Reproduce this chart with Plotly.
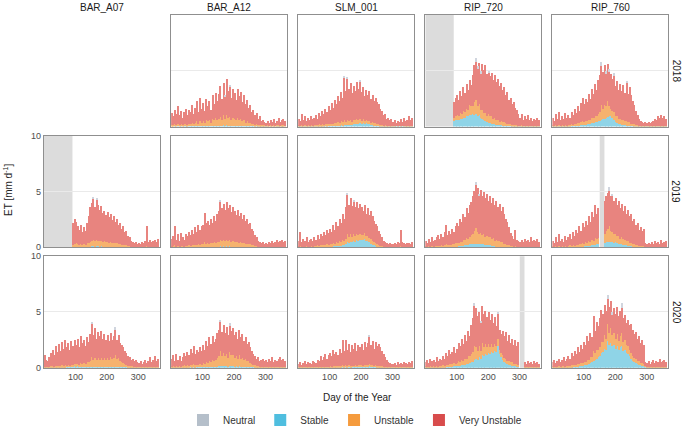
import plotly.graph_objects as go

# ---------------- data (5-day bins, ET in mm/day) ----------------
sites = ["BAR_A07", "BAR_A12", "SLM_001", "RIP_720", "RIP_760"]
years = [2018, 2019, 2020]
day_bins = list(range(3, 366, 5))  # centre day of each 5-day bin
x_ticks = [100, 200, 300]
y_ticks = [0, 5, 10]

# ---- 2018 ----
et_bar_a12_2018 = [
    1.2, 0.9, 1.5, 1.1, 1.8, 1.0, 1.4, 0.8, 1.3, 1.6,
    1.0, 1.5, 1.3, 1.9, 1.1, 1.7, 2.3, 1.3, 2.6, 1.6,
    2.1, 1.4, 2.5, 1.8, 2.3, 1.5, 2.8, 2.0, 3.0, 2.3,
    2.9, 3.6, 2.5, 3.9, 2.8, 4.3, 3.2, 3.7, 2.6, 3.4,
    3.0, 2.4, 3.4, 2.7, 3.1, 2.2, 2.8, 2.0, 2.4, 1.7,
    1.9, 1.3, 1.5, 1.0, 1.2, 0.7, 0.9, 0.5, 0.6, 0.4,
    0.3, 0.5, 0.3, 0.6, 0.4, 0.7, 0.3, 0.5, 0.8, 0.4,
    0.6, 0.7, 0.5]
unstable_bar_a12_2018 = [
    0.1, 0.1, 0.2, 0.1, 0.2, 0.1, 0.2, 0.1, 0.2, 0.2,
    0.1, 0.2, 0.2, 0.3, 0.2, 0.3, 0.4, 0.2, 0.4, 0.3,
    0.4, 0.3, 0.5, 0.4, 0.5, 0.3, 0.6, 0.5, 0.7, 0.5,
    0.6, 0.8, 0.5, 0.9, 0.6, 0.9, 0.7, 0.8, 0.5, 0.7,
    0.6, 0.5, 0.7, 0.5, 0.6, 0.4, 0.5, 0.3, 0.4, 0.3,
    0.3, 0.2, 0.2, 0.1, 0.2, 0.1, 0.1, 0.1, 0.1, 0.1,
    0.05, 0.1, 0.05, 0.1, 0.05, 0.1, 0.05, 0.1, 0.1, 0.05,
    0.1, 0.1, 0.05]
stable_bar_a12_2018 = [
    0, 0, 0.02, 0, 0.03, 0, 0.02, 0, 0.02, 0.03,
    0.02, 0.03, 0.02, 0.04, 0.03, 0.04, 0.05, 0.03, 0.05, 0.04,
    0.05, 0.04, 0.06, 0.05, 0.06, 0.04, 0.07, 0.06, 0.08, 0.06,
    0.07, 0.09, 0.06, 0.1, 0.07, 0.1, 0.08, 0.09, 0.06, 0.08,
    0.07, 0.06, 0.08, 0.06, 0.07, 0.05, 0.06, 0.04, 0.05, 0.04,
    0.04, 0.03, 0.03, 0.02, 0.03, 0.02, 0.02, 0.01, 0.02, 0.01,
    0.01, 0.01, 0, 0.01, 0, 0.01, 0, 0.01, 0.01, 0,
    0.01, 0.01, 0]
neutral_bar_a12_2018 = [(173, 0.15), (188, 0.1)]

et_slm_001_2018 = [
    0.7, 0.5, 1.1, 0.6, 0.9, 0.5, 0.8, 0.6, 0.9, 0.7,
    0.8, 1.0, 0.7, 1.2, 0.9, 1.4, 1.1, 1.6, 1.3, 1.8,
    1.5, 2.1, 1.7, 2.4, 2.0, 2.7, 2.3, 3.1, 2.6, 4.5,
    3.2, 4.4, 3.4, 3.9, 3.0, 3.6, 3.2, 4.0, 3.4, 4.1,
    3.1, 3.5, 2.7, 3.3, 2.8, 3.2, 2.5, 2.8, 2.3, 2.6,
    2.2, 2.0, 1.6, 1.4, 1.0, 1.1, 0.7, 0.8, 0.6, 0.7,
    0.4, 0.6, 0.3, 0.5, 0.4, 0.7, 0.4, 0.8, 0.5, 0.6,
    0.9, 0.6, 0.8]
unstable_slm_001_2018 = [
    0.05, 0.05, 0.1, 0.05, 0.1, 0.05, 0.1, 0.05, 0.1, 0.05,
    0.1, 0.1, 0.1, 0.15, 0.1, 0.15, 0.1, 0.2, 0.15, 0.2,
    0.15, 0.2, 0.2, 0.25, 0.2, 0.3, 0.25, 0.35, 0.3, 0.5,
    0.3, 0.45, 0.35, 0.4, 0.3, 0.4, 0.35, 0.45, 0.35, 0.4,
    0.3, 0.35, 0.25, 0.3, 0.25, 0.3, 0.2, 0.25, 0.2, 0.2,
    0.15, 0.15, 0.1, 0.1, 0.05, 0.1, 0.05, 0.05, 0.05, 0.05,
    0.05, 0.05, 0, 0.05, 0, 0.05, 0, 0.05, 0.05, 0.05,
    0.05, 0.05, 0.05]
stable_slm_001_2018 = [
    0.02, 0.01, 0.02, 0.01, 0.02, 0.01, 0.02, 0.01, 0.02, 0.02,
    0.02, 0.03, 0.02, 0.03, 0.03, 0.04, 0.03, 0.05, 0.04, 0.05,
    0.05, 0.06, 0.06, 0.08, 0.07, 0.09, 0.08, 0.1, 0.09, 0.12,
    0.1, 0.14, 0.12, 0.16, 0.14, 0.18, 0.2, 0.26, 0.24, 0.28,
    0.22, 0.3, 0.24, 0.28, 0.25, 0.2, 0.14, 0.12, 0.08, 0.07,
    0.05, 0.05, 0.04, 0.03, 0.03, 0.02, 0.02, 0.02, 0.01, 0.02,
    0.01, 0.01, 0.01, 0.01, 0.01, 0.01, 0.01, 0.01, 0.01, 0.01,
    0.01, 0.01, 0.01]
neutral_slm_001_2018 = [(148, 0.15), (158, 0.1), (198, 0.1)]

et_rip_720_2018 = [
    0, 0, 0, 0, 0, 0, 0, 0, 0, 0,
    0, 0, 0, 0, 0, 0, 0, 0, 2.2, 2.6,
    2.8, 2.4, 3.2, 2.7, 3.5, 3.0, 3.8, 3.3, 4.2, 3.7,
    4.6, 5.5, 6.1, 5.4, 5.7, 5.0, 5.6, 5.1, 5.5, 4.7,
    5.0, 4.5, 4.8, 4.2, 4.6, 4.0, 4.3, 3.6, 3.9, 3.3,
    3.5, 2.8, 3.1, 2.4, 2.6, 2.0, 2.2, 1.7, 1.5, 1.1,
    0.8, 1.1, 0.6, 0.9, 0.7, 1.0, 0.6, 0.8, 0.5, 0.7,
    0.6, 0.8, 0.6]
unstable_rip_720_2018 = [
    0, 0, 0, 0, 0, 0, 0, 0, 0, 0,
    0, 0, 0, 0, 0, 0, 0, 0, 0.3, 0.3,
    0.4, 0.3, 0.5, 0.4, 0.6, 0.5, 0.7, 0.6, 0.9, 0.8,
    0.7, 1.2, 1.3, 0.9, 1.0, 0.7, 0.8, 0.6, 0.7, 0.5,
    0.8, 0.6, 0.7, 0.5, 0.6, 0.4, 0.5, 0.3, 0.4, 0.3,
    0.3, 0.2, 0.2, 0.15, 0.15, 0.1, 0.1, 0.1, 0.1, 0.05,
    0.05, 0.1, 0.05, 0.05, 0.05, 0.05, 0.05, 0.05, 0.05, 0.05,
    0.05, 0.05, 0.05]
stable_rip_720_2018 = [
    0, 0, 0, 0, 0, 0, 0, 0, 0, 0,
    0, 0, 0, 0, 0, 0, 0, 0, 0.5, 0.6,
    0.6, 0.6, 0.7, 0.7, 0.8, 0.8, 0.9, 0.9, 1.0, 1.0,
    1.1, 1.0, 1.1, 0.9, 1.0, 0.8, 0.7, 0.6, 0.5, 0.4,
    0.35, 0.3, 0.25, 0.2, 0.18, 0.15, 0.12, 0.1, 0.1, 0.08,
    0.08, 0.07, 0.06, 0.05, 0.05, 0.04, 0.04, 0.03, 0.03, 0.03,
    0.02, 0.02, 0.02, 0.02, 0.02, 0.02, 0.02, 0.02, 0.02, 0.02,
    0.02, 0.02, 0.02]
neutral_rip_720_2018 = [(163, 0.35), (168, 0.2), (178, 0.25), (203, 0.2)]

et_rip_760_2018 = [
    0.8, 0.5, 1.1, 0.7, 1.3, 0.6, 0.9, 0.7, 1.2, 0.8,
    1.0, 0.8, 1.3, 1.0, 1.6, 1.2, 1.8, 1.4, 2.1, 2.6,
    2.0, 2.5, 2.2, 2.9, 2.5, 3.4, 2.9, 3.8, 3.3, 4.2,
    4.6, 5.8, 4.9, 5.5, 5.0, 5.6, 5.2, 4.7, 4.3, 4.8,
    3.6, 4.1, 3.3, 3.8, 3.2, 3.7, 3.0, 4.1, 2.9, 3.5,
    2.8, 2.3, 1.9, 1.4, 1.0, 0.7, 0.5, 0.4, 0.3, 0.4,
    0.3, 0.4, 0.3, 0.4, 0.5, 0.7, 0.6, 0.9, 0.8, 1.0,
    0.8, 0.9, 0.7]
unstable_rip_760_2018 = [
    0.05, 0.05, 0.1, 0.05, 0.1, 0.05, 0.1, 0.05, 0.1, 0.05,
    0.1, 0.1, 0.15, 0.1, 0.2, 0.15, 0.2, 0.2, 0.3, 0.35,
    0.3, 0.35, 0.3, 0.4, 0.35, 0.5, 0.4, 0.6, 0.5, 0.7,
    0.8, 1.3, 0.9, 1.2, 1.0, 1.4, 0.9, 0.7, 0.6, 0.7,
    0.5, 0.6, 0.4, 0.5, 0.4, 0.5, 0.4, 0.4, 0.3, 0.3,
    0.2, 0.2, 0.15, 0.1, 0.1, 0.05, 0.05, 0.05, 0.05, 0.05,
    0.05, 0.05, 0.05, 0.05, 0.05, 0.05, 0.05, 0.05, 0.05, 0.05,
    0.05, 0.05, 0.05]
stable_rip_760_2018 = [
    0.03, 0.02, 0.04, 0.03, 0.04, 0.02, 0.03, 0.03, 0.04, 0.03,
    0.04, 0.04, 0.05, 0.05, 0.06, 0.06, 0.08, 0.08, 0.1, 0.12,
    0.14, 0.16, 0.18, 0.22, 0.25, 0.3, 0.32, 0.38, 0.4, 0.45,
    0.5, 0.6, 0.65, 0.7, 0.8, 0.85, 0.95, 0.9, 0.8, 0.6,
    0.4, 0.3, 0.25, 0.2, 0.15, 0.12, 0.1, 0.08, 0.07, 0.06,
    0.05, 0.05, 0.04, 0.03, 0.03, 0.02, 0.02, 0.02, 0.02, 0.02,
    0.02, 0.02, 0.02, 0.02, 0.02, 0.02, 0.02, 0.02, 0.02, 0.02,
    0.02, 0.02, 0.02]
neutral_rip_760_2018 = [(158, 0.4), (173, 0.3), (183, 0.35), (198, 0.3), (238, 0.2)]

# ---- 2019 ----
et_bar_a07_2019 = [
    0, 0, 0, 0, 0, 0, 0, 0, 0, 0,
    0, 0, 0, 0, 0, 0, 0, 0, 2.2, 2.6,
    2.3, 1.9, 1.6, 2.0, 1.4, 1.8, 1.5, 2.2, 2.8, 3.6,
    4.0, 4.5, 3.6, 4.4, 3.8, 3.4, 3.7, 3.1, 3.3, 2.9,
    3.2, 2.7, 3.0, 2.5, 2.8, 2.3, 2.6, 2.0, 2.2, 1.7,
    1.9, 1.4, 1.5, 1.0, 0.9, 0.6, 0.5, 0.4, 0.5, 0.3,
    0.4, 0.3, 0.5, 0.4, 0.6, 1.9, 0.5, 0.7, 0.5, 0.6,
    0.7, 0.5, 0.8]
unstable_bar_a07_2019 = [
    0, 0, 0, 0, 0, 0, 0, 0, 0, 0,
    0, 0, 0, 0, 0, 0, 0, 0, 0.2, 0.3,
    0.3, 0.25, 0.2, 0.25, 0.2, 0.25, 0.2, 0.3, 0.35, 0.45,
    0.5, 0.55, 0.45, 0.55, 0.5, 0.45, 0.5, 0.4, 0.45, 0.4,
    0.4, 0.35, 0.4, 0.3, 0.35, 0.3, 0.3, 0.25, 0.25, 0.2,
    0.2, 0.15, 0.15, 0.1, 0.1, 0.05, 0.05, 0.05, 0.05, 0.05,
    0.05, 0.05, 0.05, 0.05, 0.05, 0.1, 0.05, 0.05, 0.05, 0.05,
    0.05, 0.05, 0.05]
stable_bar_a07_2019 = [
    0, 0, 0, 0, 0, 0, 0, 0, 0, 0,
    0, 0, 0, 0, 0, 0, 0, 0, 0.05, 0.05,
    0.06, 0.05, 0.05, 0.06, 0.05, 0.06, 0.05, 0.06, 0.07, 0.08,
    0.1, 0.1, 0.09, 0.1, 0.1, 0.09, 0.1, 0.08, 0.09, 0.08,
    0.08, 0.07, 0.08, 0.06, 0.07, 0.06, 0.06, 0.05, 0.05, 0.04,
    0.04, 0.03, 0.03, 0.02, 0.02, 0.02, 0.01, 0.01, 0.01, 0.01,
    0.01, 0.01, 0.01, 0.01, 0.01, 0.01, 0.01, 0.01, 0.01, 0.01,
    0.01, 0.01, 0.01]
neutral_bar_a07_2019 = [(158, 0.15), (168, 0.1)]

et_bar_a12_2019 = [
    0.8, 1.0, 1.9, 0.7, 1.2, 0.6, 1.3, 0.9, 0.7, 1.2,
    1.0, 1.4, 1.1, 1.6, 1.2, 1.8, 1.4, 2.0, 1.6, 1.9,
    2.0, 3.1, 2.2, 2.4, 2.0, 2.6, 2.2, 2.8, 2.4, 3.0,
    3.3, 4.3, 3.5, 3.9, 3.4, 4.1, 3.5, 3.8, 3.2, 3.6,
    3.3, 2.9, 3.4, 2.8, 3.1, 2.6, 2.9, 2.4, 2.6, 2.1,
    2.2, 1.7, 1.5, 1.1, 0.9, 0.6, 0.5, 0.4, 0.5, 0.3,
    0.4, 0.3, 0.5, 0.4, 0.6, 0.4, 0.5, 0.7, 0.5, 0.6,
    0.7, 0.5, 0.6]
unstable_bar_a12_2019 = [
    0.05, 0.1, 0.15, 0.05, 0.1, 0.05, 0.1, 0.1, 0.05, 0.1,
    0.1, 0.15, 0.1, 0.2, 0.15, 0.2, 0.2, 0.25, 0.2, 0.25,
    0.25, 0.4, 0.3, 0.3, 0.3, 0.35, 0.3, 0.4, 0.35, 0.45,
    0.45, 0.6, 0.5, 0.55, 0.5, 0.6, 0.5, 0.55, 0.45, 0.5,
    0.45, 0.4, 0.45, 0.35, 0.4, 0.35, 0.35, 0.3, 0.3, 0.25,
    0.25, 0.2, 0.15, 0.1, 0.1, 0.05, 0.05, 0.05, 0.05, 0.05,
    0.05, 0.05, 0.05, 0.05, 0.05, 0.05, 0.05, 0.05, 0.05, 0.05,
    0.05, 0.05, 0.05]
stable_bar_a12_2019 = [
    0.01, 0.02, 0.03, 0.01, 0.02, 0.01, 0.02, 0.02, 0.01, 0.02,
    0.02, 0.03, 0.02, 0.03, 0.03, 0.04, 0.03, 0.04, 0.04, 0.05,
    0.05, 0.07, 0.05, 0.06, 0.05, 0.06, 0.06, 0.07, 0.06, 0.08,
    0.08, 0.1, 0.09, 0.1, 0.09, 0.1, 0.09, 0.1, 0.08, 0.09,
    0.08, 0.07, 0.08, 0.06, 0.07, 0.06, 0.06, 0.05, 0.05, 0.04,
    0.04, 0.03, 0.03, 0.02, 0.02, 0.02, 0.01, 0.01, 0.01, 0.01,
    0.01, 0.01, 0.01, 0.01, 0.01, 0.01, 0.01, 0.01, 0.01, 0.01,
    0.01, 0.01, 0.01]
neutral_bar_a12_2019 = [(158, 0.15)]

et_slm_001_2019 = [
    0.6, 1.4, 0.5, 0.8, 0.6, 0.9, 0.5, 0.7, 0.8, 0.6,
    0.9, 0.7, 1.1, 0.8, 1.2, 1.0, 1.4, 1.1, 1.6, 1.3,
    1.7, 1.4, 2.0, 1.6, 2.3, 1.9, 2.6, 2.2, 3.0, 2.6,
    3.6, 4.9, 3.8, 4.4, 3.7, 4.3, 3.6, 4.1, 3.5, 3.9,
    3.6, 3.3, 3.8, 3.0, 3.5, 2.9, 3.3, 2.8, 2.4, 2.1,
    1.9, 1.5, 1.2, 0.9, 0.6, 0.5, 0.4, 0.3, 0.4, 0.3,
    0.3, 0.4, 0.3, 0.5, 0.4, 1.6, 0.5, 0.4, 0.3, 0.4,
    0.4, 0.3, 0.5]
unstable_slm_001_2019 = [
    0.05, 0.1, 0.05, 0.05, 0.05, 0.1, 0.05, 0.05, 0.1, 0.05,
    0.1, 0.1, 0.15, 0.1, 0.15, 0.15, 0.2, 0.15, 0.25, 0.2,
    0.25, 0.2, 0.3, 0.25, 0.35, 0.3, 0.4, 0.35, 0.5, 0.4,
    0.5, 0.8, 0.55, 0.7, 0.5, 0.65, 0.5, 0.6, 0.5, 0.55,
    0.5, 0.45, 0.55, 0.4, 0.5, 0.4, 0.45, 0.35, 0.3, 0.25,
    0.2, 0.15, 0.1, 0.1, 0.05, 0.05, 0.05, 0.05, 0.05, 0.05,
    0.05, 0.05, 0.05, 0.05, 0.05, 0.1, 0.05, 0.05, 0.05, 0.05,
    0.05, 0.05, 0.05]
stable_slm_001_2019 = [
    0.02, 0.02, 0.02, 0.02, 0.02, 0.02, 0.02, 0.02, 0.02, 0.02,
    0.03, 0.03, 0.04, 0.03, 0.04, 0.04, 0.05, 0.05, 0.06, 0.06,
    0.08, 0.08, 0.1, 0.1, 0.12, 0.12, 0.15, 0.15, 0.2, 0.22,
    0.3, 0.45, 0.4, 0.5, 0.45, 0.55, 0.5, 0.65, 0.6, 0.7,
    0.65, 0.7, 0.75, 0.6, 0.55, 0.45, 0.35, 0.25, 0.18, 0.12,
    0.08, 0.06, 0.05, 0.04, 0.03, 0.03, 0.02, 0.02, 0.02, 0.02,
    0.02, 0.02, 0.02, 0.02, 0.02, 0.02, 0.02, 0.02, 0.02, 0.02,
    0.02, 0.02, 0.02]
neutral_slm_001_2019 = [(158, 0.2), (178, 0.15)]

et_rip_720_2019 = [
    0.6, 0.4, 0.8, 0.5, 0.9, 0.6, 0.7, 0.9, 1.1, 0.8,
    1.2, 0.9, 1.4, 2.0, 1.1, 1.5, 1.2, 1.7, 1.4, 1.9,
    2.2, 1.9, 2.6, 2.3, 3.0, 2.7, 3.5, 3.1, 3.8, 4.1,
    4.6, 5.1, 5.9, 5.3, 4.8, 5.2, 4.6, 5.0, 4.4, 4.8,
    4.2, 4.6, 4.0, 4.4, 3.8, 4.2, 3.6, 3.9, 3.3, 3.6,
    3.0, 2.6, 2.3, 1.8, 1.3, 1.0, 0.8, 1.6, 0.7, 0.6,
    0.5, 0.7, 0.5, 0.8, 0.6, 0.7, 0.5, 0.9, 0.6, 0.7,
    0.6, 0.8, 0.5]
unstable_rip_720_2019 = [
    0.05, 0.05, 0.1, 0.05, 0.1, 0.05, 0.1, 0.1, 0.15, 0.1,
    0.15, 0.1, 0.2, 0.3, 0.15, 0.2, 0.2, 0.25, 0.2, 0.3,
    0.3, 0.3, 0.4, 0.35, 0.5, 0.45, 0.6, 0.55, 0.7, 0.8,
    0.9, 1.1, 1.4, 1.0, 0.9, 1.0, 0.8, 0.9, 0.7, 0.8,
    0.7, 0.8, 0.6, 0.7, 0.5, 0.6, 0.5, 0.5, 0.4, 0.4,
    0.3, 0.3, 0.2, 0.15, 0.1, 0.1, 0.05, 0.1, 0.05, 0.05,
    0.05, 0.05, 0.05, 0.05, 0.05, 0.05, 0.05, 0.05, 0.05, 0.05,
    0.05, 0.05, 0.05]
stable_rip_720_2019 = [
    0.02, 0.02, 0.02, 0.02, 0.02, 0.02, 0.02, 0.02, 0.02, 0.02,
    0.03, 0.03, 0.04, 0.04, 0.05, 0.05, 0.06, 0.06, 0.07, 0.08,
    0.09, 0.1, 0.12, 0.14, 0.16, 0.2, 0.22, 0.25, 0.28, 0.3,
    0.32, 0.35, 0.33, 0.35, 0.3, 0.32, 0.28, 0.3, 0.25, 0.22,
    0.2, 0.18, 0.15, 0.12, 0.1, 0.09, 0.08, 0.07, 0.06, 0.05,
    0.04, 0.04, 0.03, 0.03, 0.03, 0.02, 0.02, 0.02, 0.02, 0.02,
    0.02, 0.02, 0.02, 0.02, 0.02, 0.02, 0.02, 0.02, 0.02, 0.02,
    0.02, 0.02, 0.02]
neutral_rip_720_2019 = [(163, 0.3), (173, 0.2)]

et_rip_760_2019 = [
    0.6, 0.4, 0.9, 0.5, 1.2, 0.6, 0.8, 0.5, 1.0, 0.7,
    0.9, 1.2, 0.8, 1.4, 1.0, 1.6, 1.3, 1.9, 1.5, 2.2,
    1.8, 2.4, 2.0, 2.8, 2.3, 3.2, 2.7, 3.8, 3.0, 3.5,
    0, 0, 0, 4.2, 4.6, 4.9, 5.4, 4.6, 4.8, 4.2,
    4.4, 3.8, 4.2, 3.5, 3.9, 3.3, 3.7, 3.0, 3.4, 2.8,
    3.0, 2.4, 2.6, 2.0, 2.2, 1.6, 1.8, 1.5, 1.7, 0.4,
    0.3, 0.4, 0.3, 0.5, 0.3, 0.6, 0.4, 0.5, 0.3, 0.7,
    0.4, 0.5, 0.6]
unstable_rip_760_2019 = [
    0.05, 0.05, 0.1, 0.05, 0.1, 0.05, 0.1, 0.05, 0.1, 0.05,
    0.1, 0.15, 0.1, 0.15, 0.1, 0.2, 0.15, 0.25, 0.2, 0.3,
    0.25, 0.35, 0.3, 0.4, 0.35, 0.5, 0.4, 0.6, 0.45, 0.55,
    0, 0, 0, 0.8, 1.0, 1.2, 1.4, 1.0, 0.9, 0.8,
    0.8, 0.6, 0.7, 0.5, 0.6, 0.5, 0.5, 0.4, 0.4, 0.3,
    0.3, 0.2, 0.2, 0.15, 0.15, 0.1, 0.1, 0.1, 0.1, 0.05,
    0.05, 0.05, 0.05, 0.05, 0.05, 0.05, 0.05, 0.05, 0.05, 0.05,
    0.05, 0.05, 0.05]
stable_rip_760_2019 = [
    0.02, 0.02, 0.02, 0.02, 0.02, 0.02, 0.02, 0.02, 0.02, 0.02,
    0.03, 0.03, 0.04, 0.04, 0.05, 0.05, 0.06, 0.07, 0.08, 0.09,
    0.1, 0.12, 0.13, 0.15, 0.17, 0.2, 0.22, 0.25, 0.28, 0.3,
    0, 0, 0, 0.4, 0.45, 0.5, 0.5, 0.45, 0.5, 0.4,
    0.45, 0.4, 0.35, 0.3, 0.3, 0.25, 0.2, 0.18, 0.15, 0.12,
    0.1, 0.08, 0.07, 0.06, 0.05, 0.04, 0.04, 0.03, 0.03, 0.02,
    0.02, 0.02, 0.02, 0.02, 0.02, 0.02, 0.02, 0.02, 0.02, 0.02,
    0.02, 0.02, 0.02]
neutral_rip_760_2019 = [(183, 0.3), (193, 0.2)]

# ---- 2020 ----
et_bar_a07_2020 = [
    1.1, 0.7, 0.6, 0.9, 1.3, 1.6, 1.1, 1.9, 1.4, 2.1,
    1.5, 2.3, 1.7, 2.5, 1.8, 2.2, 1.6, 2.4, 1.9, 2.5,
    2.0, 2.6, 1.8, 2.8, 2.2, 2.5, 1.9, 2.7, 2.3, 3.0,
    4.1, 2.9, 3.5, 2.6, 3.2, 2.8, 3.3, 2.6, 3.0, 2.5,
    2.9, 2.4, 3.1, 2.5, 2.8, 3.6, 2.5, 2.9, 2.2, 2.0,
    1.8, 1.5, 1.3, 1.0, 0.9, 0.7, 0.8, 0.6, 0.7, 0.5,
    0.4, 0.6, 0.3, 0.5, 0.7, 0.4, 0.6, 0.9, 0.5, 0.7,
    1.0, 0.6, 0.8]
unstable_bar_a07_2020 = [
    0.05, 0.05, 0.05, 0.05, 0.1, 0.1, 0.05, 0.1, 0.1, 0.1,
    0.1, 0.15, 0.1, 0.15, 0.1, 0.15, 0.1, 0.15, 0.15, 0.2,
    0.15, 0.2, 0.15, 0.3, 0.25, 0.35, 0.3, 0.45, 0.4, 0.55,
    0.9, 0.6, 0.8, 0.6, 0.75, 0.65, 0.8, 0.6, 0.75, 0.6,
    0.75, 0.6, 0.9, 0.7, 0.8, 1.1, 0.7, 0.8, 0.55, 0.45,
    0.35, 0.3, 0.2, 0.15, 0.1, 0.1, 0.1, 0.05, 0.05, 0.05,
    0.05, 0.05, 0.05, 0.05, 0.05, 0.05, 0.05, 0.05, 0.05, 0.05,
    0.05, 0.05, 0.05]
stable_bar_a07_2020 = [
    0.02, 0.02, 0.02, 0.02, 0.02, 0.02, 0.02, 0.02, 0.02, 0.02,
    0.03, 0.03, 0.04, 0.04, 0.05, 0.05, 0.06, 0.07, 0.08, 0.1,
    0.12, 0.1, 0.08, 0.07, 0.06, 0.06, 0.05, 0.06, 0.06, 0.07,
    0.08, 0.07, 0.08, 0.07, 0.07, 0.06, 0.07, 0.06, 0.06, 0.05,
    0.06, 0.05, 0.06, 0.05, 0.05, 0.06, 0.05, 0.05, 0.04, 0.04,
    0.03, 0.03, 0.03, 0.02, 0.02, 0.02, 0.02, 0.02, 0.02, 0.02,
    0.02, 0.02, 0.02, 0.02, 0.02, 0.02, 0.02, 0.02, 0.02, 0.02,
    0.02, 0.02, 0.02]
neutral_bar_a07_2020 = [(153, 0.15), (228, 0.15)]

et_bar_a12_2020 = [
    0.8, 1.1, 0.6, 1.2, 0.7, 1.0, 0.6, 0.9, 1.3, 1.0,
    1.4, 1.1, 1.7, 1.3, 1.9, 1.2, 1.6, 1.4, 1.8, 1.5,
    2.0, 1.6, 2.4, 1.9, 2.7, 2.1, 2.8, 2.3, 2.6, 3.1,
    3.4, 4.3, 3.2, 3.8, 3.1, 3.6, 2.9, 4.0, 3.3, 3.5,
    2.9, 3.2, 2.6, 3.4, 2.7, 3.0, 2.4, 2.7, 2.1, 2.3,
    1.8, 1.5, 1.2, 1.0, 0.8, 0.9, 0.6, 0.7, 0.8, 0.6,
    0.7, 0.5, 0.8, 0.6, 0.9, 0.5, 0.7, 0.6, 0.8, 0.9,
    0.7, 0.8, 0.6]
unstable_bar_a12_2020 = [
    0.05, 0.1, 0.05, 0.1, 0.05, 0.1, 0.05, 0.1, 0.15, 0.1,
    0.15, 0.1, 0.2, 0.15, 0.25, 0.15, 0.2, 0.2, 0.25, 0.2,
    0.3, 0.25, 0.4, 0.35, 0.5, 0.4, 0.6, 0.5, 0.6, 0.75,
    0.9, 1.4, 0.9, 1.2, 0.9, 1.1, 0.8, 1.3, 1.0, 1.0,
    0.8, 0.9, 0.7, 1.0, 0.7, 0.8, 0.6, 0.7, 0.5, 0.5,
    0.35, 0.3, 0.2, 0.15, 0.1, 0.1, 0.05, 0.05, 0.05, 0.05,
    0.05, 0.05, 0.05, 0.05, 0.05, 0.05, 0.05, 0.05, 0.05, 0.05,
    0.05, 0.05, 0.05]
stable_bar_a12_2020 = [
    0.02, 0.03, 0.02, 0.03, 0.02, 0.03, 0.02, 0.03, 0.04, 0.03,
    0.04, 0.03, 0.05, 0.04, 0.05, 0.04, 0.05, 0.05, 0.06, 0.05,
    0.06, 0.05, 0.07, 0.06, 0.08, 0.07, 0.08, 0.07, 0.08, 0.09,
    0.1, 0.12, 0.1, 0.11, 0.1, 0.11, 0.09, 0.12, 0.1, 0.1,
    0.09, 0.1, 0.08, 0.1, 0.08, 0.09, 0.07, 0.08, 0.06, 0.06,
    0.05, 0.04, 0.04, 0.03, 0.03, 0.03, 0.02, 0.02, 0.02, 0.02,
    0.02, 0.02, 0.02, 0.02, 0.02, 0.02, 0.02, 0.02, 0.02, 0.02,
    0.02, 0.02, 0.02]
neutral_bar_a12_2020 = [(158, 0.2), (188, 0.25)]

et_slm_001_2020 = [
    0.3, 0.5, 0.2, 0.4, 0.6, 0.3, 0.5, 0.4, 0.3, 0.6,
    0.5, 0.4, 0.7, 0.6, 1.0, 0.7, 0.9, 1.2, 0.8, 1.1,
    1.3, 1.0, 1.6, 1.2, 1.4, 1.1, 1.7, 1.3, 2.5, 1.5,
    2.5, 1.6, 2.1, 1.4, 2.0, 1.7, 2.2, 1.5, 2.0, 1.8,
    2.1, 1.6, 2.3, 1.8, 2.2, 2.9, 2.0, 2.4, 1.7, 2.3,
    1.9, 2.1, 1.8, 1.5, 1.2, 0.9, 0.7, 0.5, 0.4, 0.3,
    0.3, 0.4, 0.2, 0.5, 0.3, 0.4, 0.3, 0.5, 0.4, 0.3,
    0.5, 0.4, 0.6]
unstable_slm_001_2020 = [
    0.02, 0.03, 0.01, 0.02, 0.03, 0.02, 0.03, 0.02, 0.02, 0.03,
    0.03, 0.02, 0.04, 0.03, 0.05, 0.04, 0.05, 0.06, 0.05, 0.06,
    0.07, 0.06, 0.09, 0.07, 0.08, 0.07, 0.1, 0.08, 0.15, 0.1,
    0.15, 0.1, 0.13, 0.09, 0.12, 0.1, 0.14, 0.1, 0.13, 0.12,
    0.14, 0.11, 0.16, 0.12, 0.15, 0.2, 0.14, 0.16, 0.12, 0.15,
    0.12, 0.13, 0.1, 0.08, 0.06, 0.05, 0.04, 0.03, 0.02, 0.02,
    0.02, 0.02, 0.01, 0.02, 0.02, 0.02, 0.02, 0.02, 0.02, 0.02,
    0.02, 0.02, 0.02]
stable_slm_001_2020 = [
    0.01, 0.01, 0.01, 0.01, 0.01, 0.01, 0.01, 0.01, 0.01, 0.01,
    0.01, 0.01, 0.02, 0.02, 0.02, 0.02, 0.02, 0.03, 0.02, 0.03,
    0.03, 0.03, 0.04, 0.03, 0.04, 0.03, 0.04, 0.04, 0.05, 0.04,
    0.05, 0.04, 0.05, 0.04, 0.05, 0.05, 0.06, 0.05, 0.06, 0.06,
    0.07, 0.06, 0.08, 0.07, 0.09, 0.12, 0.08, 0.07, 0.05, 0.05,
    0.04, 0.04, 0.03, 0.03, 0.02, 0.02, 0.02, 0.01, 0.01, 0.01,
    0.01, 0.01, 0.01, 0.01, 0.01, 0.01, 0.01, 0.01, 0.01, 0.01,
    0.01, 0.01, 0.01]
neutral_slm_001_2020 = [(228, 0.1)]

et_rip_720_2020 = [
    0.5, 0.7, 0.4, 0.8, 0.6, 0.7, 0.5, 0.9, 0.6, 0.8,
    0.7, 1.0, 0.8, 1.3, 1.0, 1.6, 1.2, 1.4, 1.8, 1.3,
    1.7, 2.2, 1.9, 2.6, 2.1, 2.9, 2.4, 3.3, 2.8, 3.8,
    4.4, 5.8, 5.3, 4.6, 5.0, 4.2, 5.5, 4.8, 5.1, 4.5,
    5.0, 4.3, 4.8, 4.0, 4.5, 3.7, 5.0, 3.4, 3.0, 3.3,
    2.8, 3.2, 2.4, 2.9, 2.2, 2.6, 2.0, 2.5, 1.9, 2.3,
    0, 0, 0, 0.5, 0.3, 0.6, 0.4, 0.5, 0.3, 0.6,
    0.4, 0.5, 0.3]
unstable_rip_720_2020 = [
    0.05, 0.05, 0.05, 0.1, 0.05, 0.1, 0.05, 0.1, 0.05, 0.1,
    0.1, 0.15, 0.1, 0.2, 0.15, 0.25, 0.2, 0.25, 0.3, 0.25,
    0.3, 0.4, 0.35, 0.5, 0.4, 0.55, 0.5, 0.7, 0.6, 0.8,
    0.9, 1.2, 1.0, 0.8, 1.0, 0.7, 1.1, 0.8, 0.9, 0.7,
    0.8, 0.6, 0.7, 0.5, 0.6, 0.5, 0.7, 0.4, 0.4, 0.4,
    0.35, 0.4, 0.3, 0.35, 0.25, 0.3, 0.2, 0.25, 0.2, 0.2,
    0, 0, 0, 0.05, 0.05, 0.05, 0.05, 0.05, 0.05, 0.05,
    0.05, 0.05, 0.05]
stable_rip_720_2020 = [
    0.02, 0.02, 0.02, 0.02, 0.02, 0.02, 0.02, 0.02, 0.02, 0.02,
    0.03, 0.04, 0.04, 0.05, 0.05, 0.06, 0.07, 0.08, 0.1, 0.1,
    0.12, 0.15, 0.15, 0.2, 0.2, 0.25, 0.3, 0.35, 0.4, 0.45,
    0.5, 0.7, 0.8, 0.7, 0.9, 0.8, 1.1, 1.0, 1.2, 1.1,
    1.3, 1.2, 1.4, 1.3, 1.5, 1.4, 1.9, 1.2, 0.9, 0.7,
    0.5, 0.4, 0.3, 0.25, 0.2, 0.15, 0.12, 0.1, 0.08, 0.06,
    0, 0, 0, 0.03, 0.02, 0.02, 0.02, 0.02, 0.02, 0.02,
    0.02, 0.02, 0.02]
neutral_rip_720_2020 = [(158, 0.3), (178, 0.25), (233, 0.2)]

et_rip_760_2020 = [
    0.5, 0.7, 0.4, 0.6, 0.8, 0.5, 0.7, 0.9, 0.6, 0.8,
    1.0, 0.8, 1.3, 1.0, 1.5, 1.2, 1.8, 1.4, 2.0, 1.7,
    2.3, 2.0, 2.8, 2.4, 3.1, 2.7, 4.6, 3.3, 4.1, 3.7,
    4.4, 5.2, 4.8, 5.6, 5.1, 6.5, 5.4, 6.0, 5.0, 5.3,
    4.8, 5.4, 4.6, 5.1, 5.8, 4.4, 4.7, 4.0, 4.3, 3.8,
    3.9, 3.4, 3.0, 3.2, 2.6, 2.8, 2.2, 2.5, 2.0, 0.5,
    0.4, 0.6, 0.3, 0.5, 0.7, 0.4, 0.6, 0.5, 0.8, 0.5,
    0.6, 0.7, 0.5]
unstable_rip_760_2020 = [
    0.05, 0.05, 0.05, 0.05, 0.1, 0.05, 0.1, 0.1, 0.05, 0.1,
    0.1, 0.1, 0.15, 0.15, 0.2, 0.15, 0.25, 0.2, 0.3, 0.25,
    0.35, 0.3, 0.45, 0.4, 0.5, 0.45, 0.9, 0.6, 0.8, 0.7,
    0.8, 1.0, 0.9, 1.2, 1.0, 1.5, 1.1, 1.3, 1.0, 1.1,
    0.9, 1.1, 0.8, 1.0, 1.2, 0.8, 0.9, 0.7, 0.7, 0.6,
    0.5, 0.4, 0.35, 0.35, 0.3, 0.3, 0.2, 0.25, 0.2, 0.05,
    0.05, 0.05, 0.05, 0.05, 0.05, 0.05, 0.05, 0.05, 0.05, 0.05,
    0.05, 0.05, 0.05]
stable_rip_760_2020 = [
    0.02, 0.02, 0.02, 0.02, 0.02, 0.02, 0.02, 0.02, 0.02, 0.02,
    0.03, 0.03, 0.04, 0.05, 0.06, 0.07, 0.08, 0.1, 0.12, 0.14,
    0.18, 0.2, 0.25, 0.3, 0.4, 0.45, 0.6, 0.7, 0.8, 0.9,
    1.0, 1.3, 1.4, 1.7, 1.6, 2.4, 2.0, 2.2, 1.9, 2.0,
    1.7, 1.9, 1.6, 1.8, 1.9, 1.5, 1.6, 1.3, 1.2, 1.0,
    0.8, 0.6, 0.5, 0.4, 0.3, 0.25, 0.2, 0.15, 0.12, 0.05,
    0.03, 0.03, 0.02, 0.02, 0.02, 0.02, 0.02, 0.02, 0.02, 0.02,
    0.02, 0.02, 0.02]
neutral_rip_760_2020 = [(178, 0.4), (193, 0.3), (223, 0.45)]

# missing-data periods (site, year, first day, last day)
gaps = [("RIP_720", 2018, 0, 90.5), ("BAR_A07", 2019, 0, 90.5),
        ("RIP_760", 2019, 150.5, 165.5), ("RIP_720", 2020, 300.5, 315.5)]

panels = {
    ("BAR_A12", 2018): (et_bar_a12_2018, stable_bar_a12_2018, unstable_bar_a12_2018, neutral_bar_a12_2018),
    ("SLM_001", 2018): (et_slm_001_2018, stable_slm_001_2018, unstable_slm_001_2018, neutral_slm_001_2018),
    ("RIP_720", 2018): (et_rip_720_2018, stable_rip_720_2018, unstable_rip_720_2018, neutral_rip_720_2018),
    ("RIP_760", 2018): (et_rip_760_2018, stable_rip_760_2018, unstable_rip_760_2018, neutral_rip_760_2018),
    ("BAR_A07", 2019): (et_bar_a07_2019, stable_bar_a07_2019, unstable_bar_a07_2019, neutral_bar_a07_2019),
    ("BAR_A12", 2019): (et_bar_a12_2019, stable_bar_a12_2019, unstable_bar_a12_2019, neutral_bar_a12_2019),
    ("SLM_001", 2019): (et_slm_001_2019, stable_slm_001_2019, unstable_slm_001_2019, neutral_slm_001_2019),
    ("RIP_720", 2019): (et_rip_720_2019, stable_rip_720_2019, unstable_rip_720_2019, neutral_rip_720_2019),
    ("RIP_760", 2019): (et_rip_760_2019, stable_rip_760_2019, unstable_rip_760_2019, neutral_rip_760_2019),
    ("BAR_A07", 2020): (et_bar_a07_2020, stable_bar_a07_2020, unstable_bar_a07_2020, neutral_bar_a07_2020),
    ("BAR_A12", 2020): (et_bar_a12_2020, stable_bar_a12_2020, unstable_bar_a12_2020, neutral_bar_a12_2020),
    ("SLM_001", 2020): (et_slm_001_2020, stable_slm_001_2020, unstable_slm_001_2020, neutral_slm_001_2020),
    ("RIP_720", 2020): (et_rip_720_2020, stable_rip_720_2020, unstable_rip_720_2020, neutral_rip_720_2020),
    ("RIP_760", 2020): (et_rip_760_2020, stable_rip_760_2020, unstable_rip_760_2020, neutral_rip_760_2020),
}

# ---------------- styling ----------------
W, H = 685, 430
FONT = "Liberation Sans, Arial, Helvetica, sans-serif"
class_names = ["Neutral", "Stable", "Unstable", "Very Unstable"]
legend_colors = {"Neutral": "#B5BFCA", "Stable": "#4FBEDF",
                 "Unstable": "#F59B3D", "Very Unstable": "#D84C4C"}
bar_colors = {"Neutral": "#D0D5DE", "Stable": "#8FD4E7",
              "Unstable": "#F6B26E", "Very Unstable": "#E8847F"}
BORDER = "#8F8F8F"

PANEL_L0, PANEL_STEP_X, PANEL_W = 44, 127.1, 116
PANEL_T0, PANEL_STEP_Y, PANEL_H = 15, 120.6, 111.5

fig = go.Figure()

# legend-only entries
for name in class_names:
    fig.add_trace(go.Bar(x=[None], y=[None], name=name, xaxis="x2", yaxis="y2",
                         marker=dict(color=legend_colors[name], line=dict(width=0)),
                         showlegend=True, hoverinfo="skip"))

shapes = []
annotations = []
layout_axes = {}
for r, year in enumerate(years):
    for c, site in enumerate(sites):
        idx = r * 5 + c + 1
        sfx = "" if idx == 1 else str(idx)
        left = PANEL_L0 + c * PANEL_STEP_X
        top = PANEL_T0 + r * PANEL_STEP_Y
        has = (site, year) in panels
        layout_axes["xaxis" + sfx] = dict(
            domain=[left / W, (left + PANEL_W) / W], anchor="y" + sfx,
            range=[0, 369], visible=has, showgrid=False, zeroline=False,
            showline=True, mirror=True, linecolor=BORDER, linewidth=1.2,
            tickvals=x_ticks, ticks="", showticklabels=(r == 2), automargin=False,
            tickfont=dict(size=9, color="#4D4D4D", family=FONT), fixedrange=True)
        layout_axes["yaxis" + sfx] = dict(
            domain=[1 - (top + PANEL_H) / H, 1 - top / H], anchor="x" + sfx,
            range=[0, 10], visible=has, showgrid=True, gridcolor="#EAEAEA",
            gridwidth=0.8, zeroline=False, showline=True, mirror=True,
            linecolor=BORDER, linewidth=1.2, tickvals=y_ticks, ticks="",
            showticklabels=(c == 0), automargin=False,
            tickfont=dict(size=9, color="#4D4D4D", family=FONT), fixedrange=True)
        if not has:
            continue
        et, stab, unst, neut_pairs = panels[(site, year)]
        neut = [0.0] * len(day_bins)
        for d, v in neut_pairs:
            neut[(d - 1) // 5] = v
        vu = [max(t - s - u - n, 0) for t, s, u, n in zip(et, stab, unst, neut)]
        for name, vals in [("Stable", stab), ("Unstable", unst),
                           ("Very Unstable", vu), ("Neutral", neut)]:
            fig.add_trace(go.Bar(
                x=day_bins, y=vals, width=4.7, xaxis="x" + sfx, yaxis="y" + sfx,
                marker=dict(color=bar_colors[name], line=dict(width=0)),
                showlegend=False, hoverinfo="skip", name=name))

for site_, year_, d0, d1 in gaps:
    r = years.index(year_)
    c = sites.index(site_)
    idx = r * 5 + c + 1
    sfx = "" if idx == 1 else str(idx)
    shapes.append(dict(type="rect", xref="x" + sfx, yref="y" + sfx + " domain",
                       x0=d0, x1=d1, y0=0, y1=1, fillcolor="#DCDCDC",
                       line=dict(width=0), layer="below"))

# strip labels
for c, site in enumerate(sites):
    annotations.append(dict(text=site, x=(PANEL_L0 + c * PANEL_STEP_X + PANEL_W / 2) / W,
                            y=1 - 8 / H, xref="paper", yref="paper", showarrow=False,
                            xanchor="center", yanchor="middle",
                            font=dict(size=10, color="#1A1A1A", family=FONT)))
for r, year in enumerate(years):
    annotations.append(dict(text=str(year), x=676 / W,
                            y=1 - (PANEL_T0 + r * PANEL_STEP_Y + PANEL_H / 2) / H,
                            xref="paper", yref="paper", showarrow=False, textangle=90,
                            xanchor="center", yanchor="middle",
                            font=dict(size=10, color="#1A1A1A", family=FONT)))
annotations.append(dict(text="ET [mm d<sup>-1</sup>]", x=8 / W, y=1 - 190 / H,
                        xref="paper", yref="paper", showarrow=False, textangle=-90,
                        xanchor="center", yanchor="middle",
                        font=dict(size=10, color="#222222", family=FONT)))
annotations.append(dict(text="Day of the Year", x=357 / W, y=1 - 397 / H,
                        xref="paper", yref="paper", showarrow=False,
                        xanchor="center", yanchor="middle",
                        font=dict(size=10, color="#222222", family=FONT)))

fig.update_layout(
    width=W, height=H, autosize=False,
    margin=dict(l=0, r=0, t=0, b=0, autoexpand=False),
    paper_bgcolor="white", plot_bgcolor="white",
    barmode="stack", bargap=0,
    font=dict(family=FONT, size=10, color="#333333"),
    shapes=shapes, annotations=annotations,
    legend=dict(orientation="h", x=355 / W, xanchor="center",
                y=1 - 420 / H, yanchor="middle",
                font=dict(size=10, color="#333333", family=FONT),
                bgcolor="rgba(0,0,0,0)", itemwidth=30, traceorder="normal"),
    **layout_axes,
)

# remove the browser's default page margin so the figure sits at the window origin
fig.write_html("out.html", config={"displayModeBar": False},
               post_script="document.body.style.margin='0';document.body.style.padding='0';")
